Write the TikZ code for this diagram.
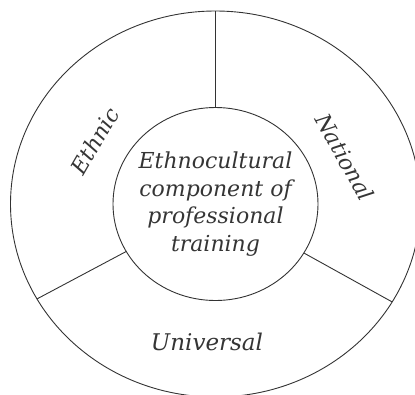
\documentclass[tikz,border=0pt]{standalone}
\usepackage{fontspec}
\setmainfont{DejaVu Serif}
\usetikzlibrary{shapes.geometric}
\definecolor{ink}{HTML}{333333}
\definecolor{txt}{HTML}{353535}
\begin{document}
\begin{tikzpicture}[x=1pt,y=-1pt,
  ring/.style={draw=ink,line width=0.9pt,ellipse,inner sep=0pt,outer sep=0pt},
  divider/.style={draw=ink,line width=0.9pt},
  lbl/.style={text=txt,font=\fontsize{22}{27.5}\selectfont\itshape,inner sep=0pt}]
\useasboundingbox (0,0) rectangle (415,394);
\clip (0,0) rectangle (415,394);
\node[ring,minimum width=410pt,minimum height=386pt] (outer) at (215.5,204) {};
\node[ring,minimum width=205pt,minimum height=193pt] (core) at (215.5,204) {};
\node[lbl,align=center] (centre) at (215.5,204) {Ethnocultural\\component of\\professional\\training};
\draw[divider] (core.90) -- (outer.90);
\draw[divider] (core.208.5) -- (outer.208.5);
\draw[divider] (core.331.5) -- (outer.331.5);
\node[lbl,rotate=60] (ethnic) at (95,141) {Ethnic};
\node[lbl,rotate=-61] (national) at (345,157) {National};
\node[lbl,font=\fontsize{23}{27.5}\selectfont\itshape] (universal) at (207,342) {Universal};
\end{tikzpicture}
\end{document}
